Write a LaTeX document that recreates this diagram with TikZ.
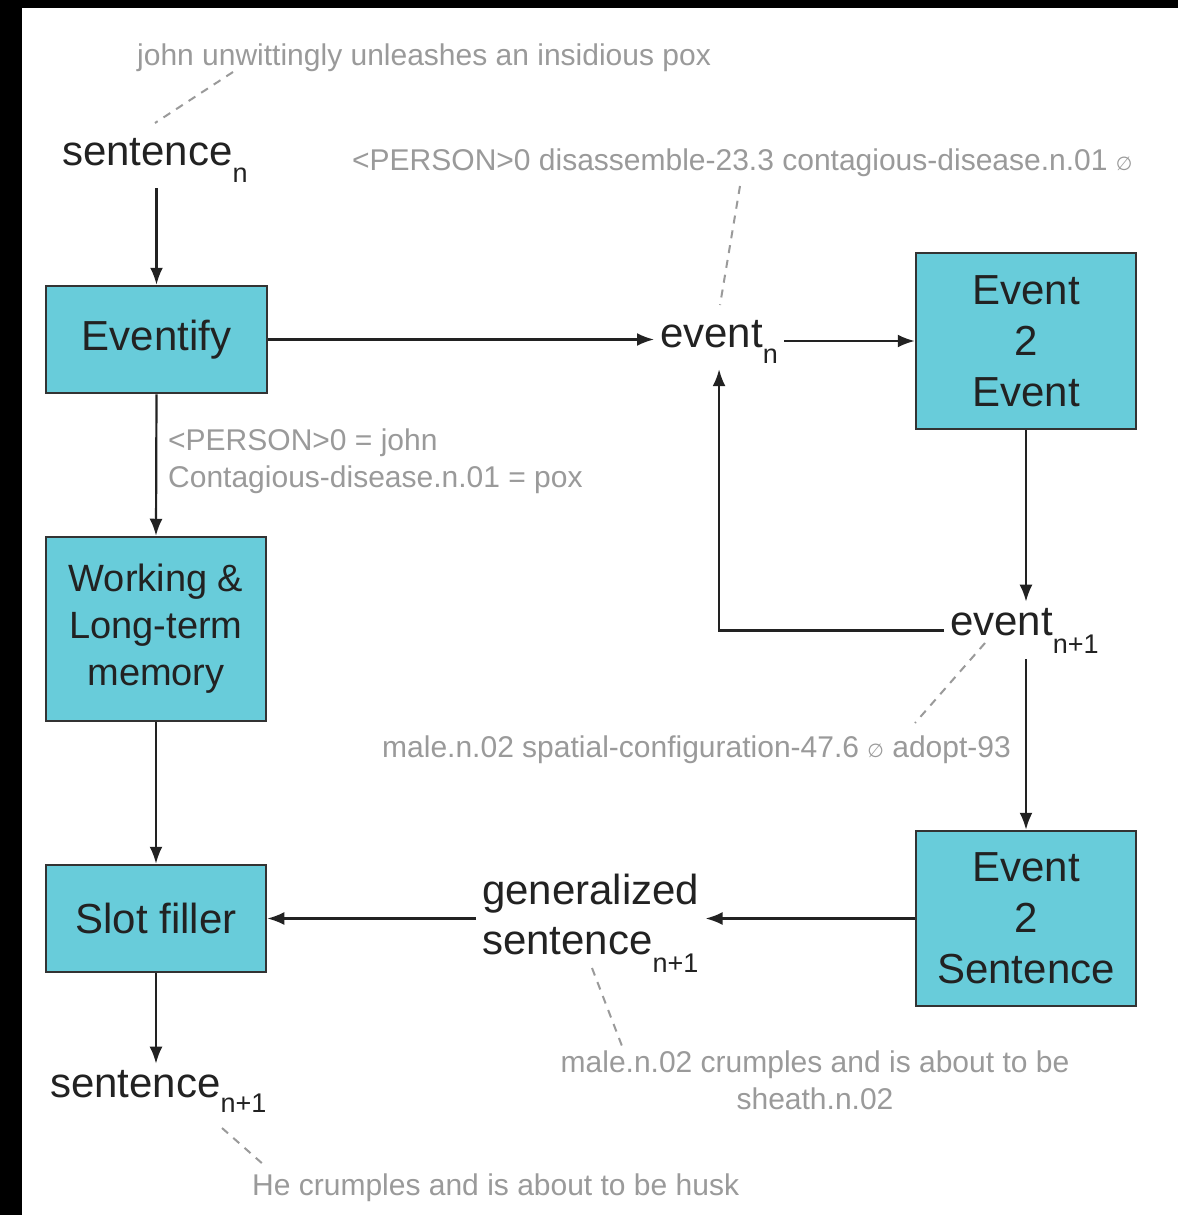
\documentclass[tikz,border=0pt]{standalone}
\usepackage{fontspec}
\setmainfont{Liberation Sans}
\newfontfamily\symfont{DejaVu Sans}
\usetikzlibrary{arrows.meta}

\definecolor{boxcyan}{HTML}{68CCDA}
\definecolor{boxedge}{HTML}{333333}
\definecolor{inkdark}{HTML}{222222}
\definecolor{notegray}{HTML}{9A9A9A}

% lowered index as in the original figure
\newcommand{\lowidx}[2][16pt]{\raisebox{-#1}{\fontsize{27}{27}\selectfont #2}}
\newcommand{\nullsym}{{\symfont\fontsize{19}{19}\selectfont ∅}}

\tikzset{
  block/.style={draw=boxedge, line width=2.5pt, fill=boxcyan, text=inkdark,
    align=center, font=\fontsize{42}{51}\selectfont, inner sep=0pt},
  term/.style={text=inkdark, font=\fontsize{42}{50}\selectfont, inner sep=6pt},
  note/.style={text=notegray, font=\fontsize{30}{37}\selectfont, inner sep=0pt},
  arr/.style={draw=inkdark, line width=2.2pt, -{Latex[length=17pt,width=13pt]}},
  link/.style={draw=notegray, line width=2pt, dash pattern=on 8pt off 7pt},
}

\begin{document}
\begin{tikzpicture}[x=1pt,y=-1pt]
    \fill[black] (0,0) rectangle (1178,1215);
    \fill[white] (22,8) rectangle (1178,1215);

    % boxes
    \node[block, minimum width=221pt, minimum height=107pt] (eventify) at (156.5,339.5) {Eventify};
    \node[block, minimum width=220pt, minimum height=184pt, font=\fontsize{38}{47}\selectfont] (memory) at (156,629) {Working \&\\Long-term\\memory};
    \node[block, minimum width=220pt, minimum height=107pt] (slot) at (156,918.5) {Slot filler};
    \node[block, minimum width=220pt, minimum height=176pt] (evev) at (1026,341) {Event\\2\\Event};
    \node[block, minimum width=220pt, minimum height=175pt] (evsent) at (1026,918.5) {Event\\2\\Sentence};

    % terms
    \node[term, anchor=base west] (sentn) at (56,165) {sentence\lowidx[17pt]{n}};
    \node[term, anchor=base west] (eventn) at (654,347) {event\lowidx{n}};
    \node[term, anchor=base west] (eventnn) at (944,635) {event\lowidx[18pt]{n+1}};
    \node[term, anchor=north west, align=left] (gensent) at (476,868) {generalized\\sentence\lowidx[18pt]{n+1}};
    \node[term, anchor=base west] (sentnn) at (44,1097) {sentence\lowidx[15pt]{n+1}};

    % notes
    \node[note, anchor=base west] (john) at (137,66) {john unwittingly unleashes an insidious pox};
    \node[note, anchor=base west] (frame) at (352,170) {<PERSON>0 disassemble-23.3 contagious-disease.n.01 \nullsym};
    \node[note, anchor=north west, align=left] (slots) at (168,429) {<PERSON>0 = john\\Contagious-disease.n.01 = pox};
    \node[note, anchor=base west] (frameb) at (382,757) {male.n.02 spatial-configuration-47.6 \nullsym{} adopt-93};
    \node[note, anchor=north, align=center] (crumple) at (815,1051) {male.n.02 crumples and is about to be\\sheath.n.02};
    \node[note, anchor=base west] (husk) at (252,1195) {He crumples and is about to be husk};

    % flow
    \draw[arr] (sentn.south -| eventify.north) -- (eventify.north);
    \draw[arr] (eventify.east) -- (eventify.east -| eventn.west);
    \draw[arr] (eventn.east |- evev.west) -- (evev.west);
    \draw[arr] (evev.south) -- (evev.south |- eventnn.north);
    \draw[arr] (eventnn.west) -| (eventn.south);
    \draw[arr] (eventnn.south -| evsent.north) -- (evsent.north);
    \draw[arr] (evsent.west) -- (evsent.west -| gensent.east);
    \draw[arr] (gensent.west |- slot.east) -- (slot.east);
    \draw[arr] (eventify.south) -- (memory.north);
    \draw[arr] (memory.south) -- (slot.north);
    \draw[arr] (slot.south) -- (sentnn.north -| slot.south);

    % dashed links to the examples
    \draw[link] ([shift={(96,6)}]john.base west) -- ([shift={(99,-42)}]sentn.base west);
    \draw[link] ([shift={(388,16)}]frame.base west) -- ([shift={(66,-42)}]eventn.base west);
    \draw[link] ([shift={(41,8)}]eventnn.base west) -- ([shift={(533,-34)}]frameb.base west);
    \draw[link] ([shift={(116,100)}]gensent.north west) -- ([shift={(-193,-5)}]crumple.north);
    \draw[link] ([shift={(178,31)}]sentnn.base west) -- ([shift={(12,-30)}]husk.base west);
\end{tikzpicture}
\end{document}
